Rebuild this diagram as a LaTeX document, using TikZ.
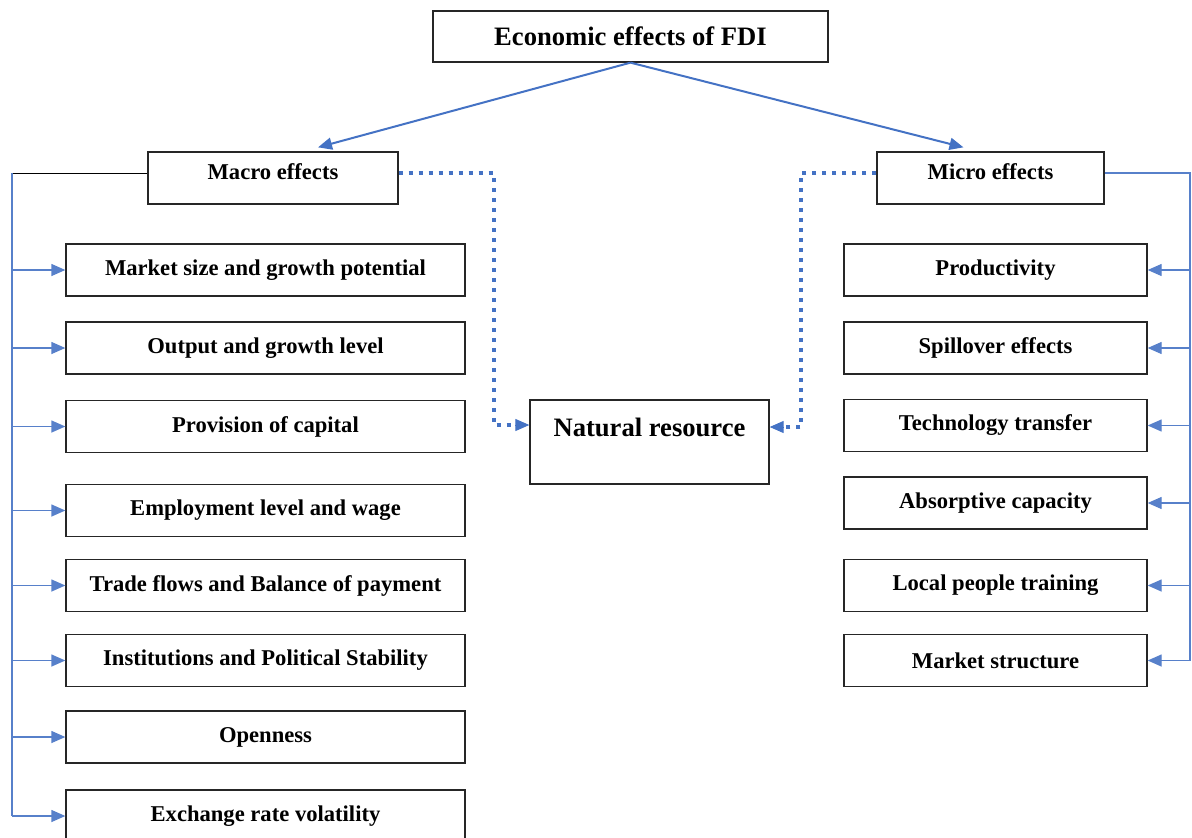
\documentclass[tikz,border=0pt]{standalone}
\usepackage{fontspec}
\setmainfont{Liberation Serif}
\usepackage{tikz}
\usetikzlibrary{arrows.meta}
\definecolor{linkblue}{HTML}{4472C4}

\begin{document}
\begin{tikzpicture}[x=1pt, y=-1pt, >={Triangle[length=14pt, width=12pt]},
    box/.style={draw=black!85, line width=1.3pt, fill=white, inner sep=0pt, minimum height=52pt,
        font=\fontsize{22.6}{26}\selectfont\bfseries},
    bigbox/.style={box, font=\fontsize{26.6}{30}\selectfont\bfseries},
    leftbox/.style={box, minimum width=399pt},
    rightbox/.style={box, minimum width=303pt},
    busline/.style={draw=linkblue!90, line width=1.3pt},
    dotlink/.style={draw=linkblue, line width=4pt, dash pattern=on 4pt off 6pt}]
        \clip (0,0) rectangle (1192,838);
        % Nodes
        \node[bigbox, minimum width=395pt, minimum height=51pt] (fdi) at (630.5, 36.5) {Economic effects of FDI};
        \node[box, minimum width=250pt, text depth=12pt] (macro) at (273, 178) {Macro effects};
        \node[box, minimum width=227pt, text depth=12pt] (micro) at (990.5, 178) {Micro effects};
        \node[bigbox, minimum width=239pt, minimum height=84pt, text depth=30pt] (natres) at (649.5, 442) {Natural resource};

        \node[leftbox] (m1) at (265.5, 270) {Market size and growth potential};
        \node[leftbox] (m2) at (265.5, 348) {Output and growth level};
        \node[leftbox] (m3) at (265.5, 426.5) {Provision of capital};
        \node[leftbox] (m4) at (265.5, 510.5) {Employment level and wage};
        \node[leftbox] (m5) at (265.5, 585.5) {Trade flows and Balance of payment};
        \node[leftbox] (m6) at (265.5, 660.5) {Institutions and Political Stability};
        \node[leftbox] (m7) at (265.5, 737) {Openness};
        \node[leftbox] (m8) at (265.5, 816) {Exchange rate volatility};

        \node[rightbox] (r1) at (995.5, 270) {Productivity};
        \node[rightbox] (r2) at (995.5, 348) {Spillover effects};
        \node[rightbox] (r3) at (995.5, 425.5) {Technology transfer};
        \node[rightbox] (r4) at (995.5, 503) {Absorptive capacity};
        \node[rightbox] (r5) at (995.5, 585.5) {Local people training};
        \node[rightbox] (r6) at (995.5, 660.5) {Market structure};

        \coordinate (lbus) at (12, 173);
        \coordinate (rbus) at (1190, 173);

        % Directed edges
        \draw[->, linkblue, line width=2pt] (fdi.south) -- ([xshift=45pt, yshift=4pt]macro.north);
        \draw[->, linkblue, line width=2pt] (fdi.south) -- ([xshift=-27pt, yshift=4pt]micro.north);

        \draw[dotlink] ([yshift=5pt]macro.east) -- ++(95, 0) |- ([yshift=17pt, xshift=-12pt]natres.west);
        \draw[->, linkblue, line width=1pt] ([yshift=17pt, xshift=-14pt]natres.west) -- ([yshift=17pt]natres.west);
        \draw[dotlink] ([yshift=5pt]micro.west) -- ++(-75, 0) |- ([yshift=15pt, xshift=12pt]natres.east);
        \draw[->, linkblue, line width=1pt] ([yshift=15pt, xshift=14pt]natres.east) -- ([yshift=15pt]natres.east);

        % Macro bus
        \draw[black, line width=1pt] ([yshift=5pt]macro.west) -- (lbus);
        \draw[busline] (lbus) -- (lbus |- m8.west);
        \foreach \i in {1,...,8}
            \draw[busline, ->] (lbus |- m\i.west) -- (m\i.west);

        % Micro bus
        \draw[busline] ([yshift=5pt]micro.east) -- (rbus) -- (rbus |- r6.east);
        \foreach \i in {1,...,6}
            \draw[busline, ->] (rbus |- r\i.east) -- (r\i.east);
    \end{tikzpicture}
\end{document}
